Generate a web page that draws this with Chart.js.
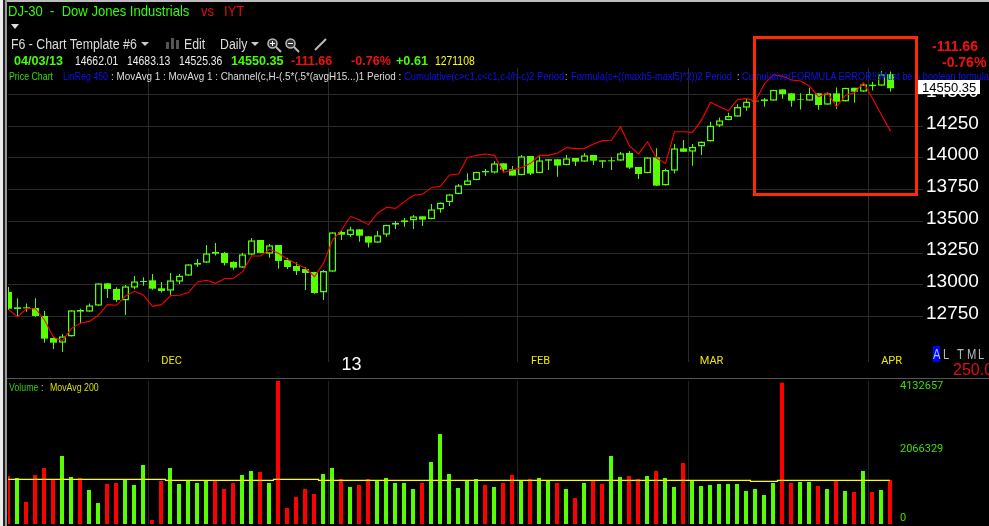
<!DOCTYPE html>
<html>
<head>
<meta charset="utf-8">
<title>DJ-30 - Dow Jones Industrials</title>
<script src="https://cdn.jsdelivr.net/npm/chart.js@4"></script>
<style>
  html, body { margin: 0; padding: 0; background: #000; width: 989px; height: 526px; overflow: hidden; }
  canvas { position: absolute; left: 0; }
  #priceChart { top: 0; }
  #volumeChart { top: 378px; }
  /* the platform's UI font is narrow, so squeeze Liberation Sans to fit */
  .t { position: absolute; white-space: pre; font-family: "Liberation Sans", sans-serif; line-height: 1; transform: scaleX(.8); transform-origin: left; }
  .n { transform: none; }
  .b { font-weight: bold; transform: scaleX(.97); }
  .tool { transform: scaleX(.88); }
  .box { position: absolute; }
  svg { position: absolute; }
</style>
</head>
<body>
<canvas id="priceChart" width="989" height="378"></canvas>
<canvas id="volumeChart" width="989" height="148"></canvas>

<!-- window edge -->
<div class="box" style="left:0;top:0;width:989px;height:2px;background:#bdbdbd"></div>
<div class="box" style="left:0;top:0;width:3px;height:526px;background:#ededed"></div>
<div class="box" style="left:3px;top:0;width:2px;height:526px;background:#222"></div>
<div class="box" style="left:5px;top:0;width:2px;height:526px;background:#9a9a9a"></div>

<!-- title row -->
<div class="t" style="left:8px;top:3px;font-size:15px;color:#33ff00;transform:scaleX(.87)">DJ-30  -  Dow Jones Industrials</div>
<div class="t" style="left:201px;top:3px;font-size:15px;color:#e01010;transform:scaleX(.87)">vs</div>
<div class="t" style="left:224px;top:3px;font-size:15px;color:#e01010;transform:scaleX(.87)">IYT</div>
<div class="box" style="left:11px;top:24px;border-left:4px solid transparent;border-right:4px solid transparent;border-top:5px solid #ddd"></div>

<!-- toolbar row -->
<div class="t tool" style="left:11px;top:37px;font-size:14px;color:#ddd">F6 - Chart Template #6</div>
<div class="box" style="left:141px;top:42px;border-left:4px solid transparent;border-right:4px solid transparent;border-top:4px solid #ccc"></div>
<div class="box" style="left:166px;top:42px;width:3px;height:7px;background:#555"></div>
<div class="box" style="left:171px;top:38px;width:3px;height:11px;background:#555"></div>
<div class="box" style="left:176px;top:40px;width:3px;height:9px;background:#555"></div>
<div class="t tool" style="left:184px;top:37px;font-size:14px;color:#ddd">Edit</div>
<div class="t tool" style="left:220px;top:37px;font-size:14px;color:#ddd">Daily</div>
<div class="box" style="left:251px;top:42px;border-left:4px solid transparent;border-right:4px solid transparent;border-top:4px solid #ccc"></div>
<svg style="left:266px;top:37px" width="16" height="16"><circle cx="6.5" cy="6.5" r="4.5" fill="#333" stroke="#bbb" stroke-width="1.5"/><path d="M10 10l5 5" stroke="#bbb" stroke-width="2"/><path d="M4 6.5h5M6.5 4v5" stroke="#fff"/></svg>
<svg style="left:284px;top:37px" width="16" height="16"><circle cx="6.5" cy="6.5" r="4.5" fill="#333" stroke="#bbb" stroke-width="1.5"/><path d="M10 10l5 5" stroke="#bbb" stroke-width="2"/><path d="M4 6.5h5" stroke="#fff"/></svg>
<svg style="left:314px;top:37px" width="14" height="14"><path d="M1 13L12 2" stroke="#bbb" stroke-width="2"/></svg>

<!-- quote row -->
<div class="t b" style="left:14px;top:54px;font-size:13px;color:#44ff00">04/03/13</div>
<div class="t" style="left:75px;top:54px;font-size:13px;color:#eee">14662.01</div>
<div class="t" style="left:127px;top:54px;font-size:13px;color:#eee">14683.13</div>
<div class="t" style="left:179px;top:54px;font-size:13px;color:#eee">14525.36</div>
<div class="t b" style="left:231px;top:54px;font-size:13px;color:#44ff00">14550.35</div>
<div class="t b" style="left:291px;top:54px;font-size:13px;color:#f01010">-111.66</div>
<div class="t b" style="left:351px;top:54px;font-size:13px;color:#f01010">-0.76%</div>
<div class="t b" style="left:396px;top:54px;font-size:13px;color:#44ff00">+0.61</div>
<div class="t" style="left:435px;top:54px;font-size:13px;color:#ffff00">1271108</div>

<!-- study legend row -->
<div class="t" style="left:9px;top:71px;font-size:11px;color:#33dd00">Price Chart</div>
<div class="t" style="left:63px;top:71px;font-size:11px;color:#1010f0">LinReg 450</div>
<div class="t" style="left:111px;top:71px;font-size:11px;color:#ddd;transform:scaleX(.9)">: MovAvg 1 : MovAvg 1 : Channel(c,H-(.5*(.5*(avgH15...)1 Period :</div>
<div class="t" style="left:404px;top:71px;font-size:11px;color:#1010f0;transform:scaleX(.86)">Cumulative(c&gt;c1,c&lt;c1,c-l/h-c)2 Period</div>
<div class="t" style="left:565px;top:71px;font-size:11px;color:#ddd">:</div>
<div class="t" style="left:571px;top:71px;font-size:11px;color:#1010f0;transform:scaleX(.84)">Formula(c+((maxh5-maxl5)*2))2 Period</div>
<div class="t" style="left:737px;top:71px;font-size:11px;color:#ddd">:</div>
<div class="t" style="left:742px;top:71px;font-size:11px;color:#1010f0;transform:scaleX(.84)">Cumulative(FORMULA ERROR!!!Must be a boolean formula</div>

<!-- right side read-outs -->
<div class="t b n" style="left:932px;top:39px;font-size:14px;color:#f01010;transform:none">-111.66</div>
<div class="t b n" style="left:942px;top:55px;font-size:14px;color:#f01010;transform:none">-0.76%</div>
<div class="box" style="left:918px;top:80px;width:62px;height:14px;background:#fff"></div>
<div class="t n" style="left:922px;top:81px;font-size:13px;color:#000">14550.35</div>

<!-- highlight box -->
<div class="box" style="left:753px;top:36px;width:159px;height:154px;border:3px solid #ff2a00"></div>

<!-- period buttons -->
<div class="box" style="left:933px;top:346px;width:7px;height:16px;background:#0000ff"></div>
<div class="t" style="left:933px;top:347px;font-size:14px;color:#9cc4ff">A</div>
<div class="t" style="left:943px;top:347px;font-size:14px;color:#bbb">L</div>
<div class="t" style="left:957px;top:347px;font-size:14px;color:#bbb">T</div>
<div class="t" style="left:967px;top:347px;font-size:14px;color:#bbb">M</div>
<div class="t" style="left:978px;top:347px;font-size:14px;color:#bbb">L</div>
<div class="t n" style="left:953px;top:362px;font-size:16px;color:#e01010">250.0</div>

<!-- volume pane rule and legend -->
<div class="box" style="left:7px;top:378px;width:982px;height:1px;background:#555"></div>
<div class="t" style="left:9px;top:382px;font-size:11px;color:#33cc00">Volume</div>
<div class="t" style="left:41px;top:382px;font-size:11px;color:#ddd">:</div>
<div class="t" style="left:50px;top:382px;font-size:11px;color:#dddd00">MovAvg 200</div>

<script>
// Candle values, one entry per trading day
const opens = [12943,12822,12822,12817,12754,12580,12543,12591,12801,12788,12835,13011,12967,12875,12977,13030,13035,12972,12953,13024,13072,13172,13174,13259,13251,13180,13135,13237,13353,13245,13314,13195,13148,13124,13101,12938,13103,13416,13390,13437,13382,13332,13395,13474,13493,13506,13540,13516,13593,13650,13714,13785,13824,13898,13884,13958,13911,13863,14016,13879,13990,13990,13942,14000,13971,14024,13982,13982,13979,14040,13929,13879,14005,13784,13899,14076,14049,14091,14131,14254,14297,14325,14397,14452,14462,14452,14541,14510,14462,14452,14510,14420,14510,14446,14554,14523,14578,14570,14662.01];
const highs = [12982,12893,12853,12893,12793,12591,12612,12798,12811,12853,13011,13011,12980,12998,13069,13059,13085,13022,13093,13085,13161,13203,13314,13330,13259,13185,13253,13369,13353,13322,13314,13214,13177,13140,13101,13116,13414,13427,13458,13437,13382,13424,13474,13503,13527,13550,13540,13637,13648,13714,13795,13879,13892,13913,13974,13958,13937,14024,14016,14013,13990,13990,14024,14000,14040,14024,13982,14008,14048,14053,13929,14005,14076,13918,14110,14141,14110,14131,14286,14320,14357,14425,14470,14462,14473,14539,14541,14510,14510,14554,14510,14520,14557,14554,14554,14588,14602,14686,14683.13];
const lows = [12801,12748,12788,12748,12543,12493,12472,12591,12696,12788,12835,12896,12864,12761,12964,12993,12961,12938,12917,13006,13072,13143,13174,13230,13151,13119,13135,13232,13251,13214,13127,13124,13077,12959,12930,12880,13103,13353,13379,13340,13293,13332,13379,13440,13458,13440,13464,13516,13569,13621,13714,13785,13824,13858,13877,13884,13861,13863,13866,13879,13905,13853,13942,13937,13971,13945,13921,13905,13979,13913,13834,13879,13782,13784,13878,14049,13939,14023,14131,14244,14297,14325,14373,14436,14404,14452,14468,14404,14383,14452,14381,14420,14386,14446,14436,14523,14533,14570,14525.36];
const closes = [12811,12809,12814,12754,12575,12543,12593,12798,12788,12838,13011,12967,12880,12988,13027,13022,12969,12951,13035,13074,13161,13159,13248,13245,13172,13135,13240,13351,13251,13311,13188,13140,13109,13093,12935,13109,13414,13395,13437,13387,13332,13390,13474,13490,13508,13540,13514,13595,13648,13714,13785,13824,13892,13887,13958,13908,13861,14013,13877,13982,13979,13940,13998,13971,14021,13979,13971,13974,14037,13924,13874,14005,13782,13905,14076,14049,14089,14131,14257,14297,14331,14402,14446,14446,14449,14539,14504,14452,14457,14507,14418,14510,14444,14554,14523,14581,14567,14660,14550.35];

// Red study line
const studyLine = [12806,12748,12811,12811,12722,12585,12559,12656,12696,12711,12761,12843,12838,12911,12948,12917,12830,12843,12914,12917,12938,13022,13035,13011,13048,13051,13103,13227,13227,13280,13248,13201,13166,13130,13064,13169,13353,13432,13540,13511,13474,13564,13611,13603,13656,13706,13714,13766,13779,13866,13874,14005,14021,14032,14021,13887,13906,13924,13958,14021,14021,14040,14082,14074,14076,14111,14137,14140,14247,14095,14032,14126,14000,13957,14207,14207,14202,14299,14439,14404,14373,14462,14468,14449,14588,14657,14646,14615,14607,14567,14483,14515,14404,14496,14515,14594,14470,14339,14210];

// Volume, its up/down flag and the 200 period average
const volumes = [1387000,1329000,636000,1416000,1618000,1272000,1965000,1358000,1329000,983000,607000,1156000,1185000,1272000,1127000,1705000,116000,1243000,1618000,1156000,1252000,1185000,1252000,1252000,1011000,1185000,1416000,1532000,1503000,1185000,4132657,462000,780000,1011000,867000,1445000,1618000,1300000,1069000,1127000,1300000,1252000,1329000,1185000,1185000,1011000,1185000,1792000,2601000,1445000,1040000,1243000,1300000,1127000,1069000,1185000,1416000,1252000,1300000,1329000,1252000,1185000,1011000,751000,1185000,1252000,1156000,1965000,1358000,1387000,1300000,1387000,1532000,1329000,1069000,1763000,1252000,1098000,1127000,1156000,1156000,1156000,954000,1011000,838000,1185000,4084000,1185000,1214000,1214000,1098000,1011000,1262000,954000,925000,1532000,925000,983000,1271108];
const volumeUp = [0,1,0,0,0,0,1,1,0,1,1,0,0,1,1,1,0,0,1,1,1,1,1,0,0,0,1,1,0,1,0,0,0,0,0,1,1,0,1,0,0,1,1,1,1,1,0,1,1,1,1,1,1,0,1,0,0,1,0,1,1,0,1,0,1,0,0,1,1,0,0,1,0,1,1,0,1,1,1,1,1,1,1,1,1,1,0,0,1,1,0,1,0,1,0,1,0,1,0];
const volumeAvg = [1291000,1291000,1291000,1291000,1291000,1291000,1291000,1291000,1291000,1291000,1291000,1291000,1291000,1291000,1291000,1291000,1291000,1291000,1262000,1262000,1262000,1262000,1262000,1262000,1262000,1262000,1262000,1262000,1262000,1262000,1291000,1291000,1291000,1291000,1291000,1262000,1262000,1262000,1262000,1262000,1262000,1262000,1262000,1262000,1262000,1262000,1262000,1262000,1262000,1262000,1262000,1262000,1262000,1262000,1262000,1262000,1262000,1262000,1262000,1262000,1262000,1262000,1262000,1262000,1262000,1262000,1262000,1262000,1262000,1262000,1262000,1262000,1262000,1262000,1262000,1262000,1262000,1262000,1262000,1262000,1262000,1262000,1262000,1233000,1233000,1233000,1262000,1262000,1262000,1262000,1262000,1262000,1262000,1262000,1262000,1262000,1262000,1262000,1262000];

// Axis ticks
const priceTicks = [12750,13000,13250,13500,13750,14000,14250,14500];
const volumeTicks = [0,2066329,4132657];
const monthTicks = [15.56,35.56,56.56,75.56,95.56];
const monthLabels = ['DEC','13','FEB','MAR','APR'];

const green = '#55ff00';
const red = '#ff0000';
const gridColor = '#2b2b2b';

const wicks = [], hollow = [], filled = [], line = [];
for (let i = 0; i < closes.length; i++) {
  wicks.push({x: i, y: [lows[i], highs[i]]});
  if (closes[i] > opens[i]) hollow.push({x: i, y: [opens[i], closes[i]]});
  else filled.push({x: i, y: [closes[i], opens[i]]});
  line.push({x: i, y: studyLine[i]});
}

new Chart(document.getElementById('priceChart'), {
  type: 'bar',
  data: {
    datasets: [
      {type: 'line', data: line, borderColor: red, borderWidth: 1.1, pointRadius: 0, tension: 0},
      {data: hollow, barThickness: 7, backgroundColor: '#000', borderColor: green, borderWidth: 1.5, borderSkipped: false, inflateAmount: 0, grouped: false},
      {data: filled, barThickness: 7, backgroundColor: green, borderWidth: 0, inflateAmount: 0, grouped: false},
      {data: wicks, barThickness: 1, backgroundColor: green, borderWidth: 0, inflateAmount: 0, grouped: false}
    ]
  },
  options: {
    responsive: false,
    animation: false,
    layout: {padding: {left: 8, top: 68}},
    plugins: {legend: {display: false}, tooltip: {enabled: false}},
    scales: {
      x: {
        type: 'linear',
        offset: false,
        min: -0.055,
        max: 100.94,
        afterBuildTicks: s => { s.ticks = monthTicks.map(v => ({value: v})); },
        afterFit: s => { s.height = 26; },
        border: {display: false},
        // tick marks carry the month lines down past the plot, beside the labels
        grid: {color: gridColor, tickLength: 10, tickColor: gridColor, offset: false},
        ticks: {
          autoSkip: false,
          maxRotation: 0,
          labelOffset: 23,
          padding: -7.6,
          callback: (v, i) => monthLabels[i],
          color: c => c.index === 1 ? '#fff' : '#e8e800',
          font: c => c.index === 1 ? {family: 'Liberation Sans', size: 18} : {family: 'Roboto', size: 11}
        }
      },
      y: {
        position: 'right',
        min: 12469.5,
        max: 14710,
        afterBuildTicks: s => { s.ticks = priceTicks.map(v => ({value: v})); },
        afterFit: s => { s.width = 72; },
        border: {display: false},
        grid: {color: gridColor, tickLength: 6, tickColor: gridColor},
        ticks: {color: '#fff', padding: 3, labelOffset: -3, callback: v => String(v), font: {family: 'Liberation Sans', size: 19}}
      }
    }
  }
});

new Chart(document.getElementById('volumeChart'), {
  type: 'bar',
  data: {
    datasets: [
      {type: 'line', data: volumeAvg.map((v, i) => ({x: i, y: v})), borderColor: '#ffff00', borderWidth: 1.2, pointRadius: 0, stepped: 'middle'},
      {
        data: volumes.map((v, i) => ({x: i, y: v})),
        barThickness: 4,
        backgroundColor: volumeUp.map(u => u ? green : red),
        borderWidth: 0,
        inflateAmount: 0,
        grouped: false
      }
    ]
  },
  options: {
    responsive: false,
    animation: false,
    layout: {padding: {left: 8, top: 3, bottom: 2}},
    plugins: {legend: {display: false}, tooltip: {enabled: false}},
    scales: {
      x: {
        type: 'linear',
        offset: false,
        min: 0,
        max: 98.67,
        afterBuildTicks: s => { s.ticks = monthTicks.map(v => ({value: v + 0.06})); },
        afterFit: s => { s.height = 0; },
        border: {display: false},
        grid: {color: '#222', drawTicks: false, offset: false},
        ticks: {display: false}
      },
      y: {
        position: 'right',
        min: 0,
        max: 4132657,
        // the platform nudges these labels off their exact level
        afterBuildTicks: s => {
          s.ticks = volumeTicks.map(v => ({value: v}));
          const pixelFor = s.getPixelForTick;
          s.getPixelForTick = i => pixelFor.call(s, i) + [-6, -3.5, 5][i];
        },
        afterFit: s => { s.width = 93; s.paddingTop = 0; s.paddingBottom = 0; },
        border: {display: false},
        grid: {display: false, drawTicks: false},
        ticks: {color: '#44dd00', padding: 4, callback: v => String(v), font: {family: 'Roboto', size: 11}}
      }
    }
  }
});
</script>
</body>
</html>
